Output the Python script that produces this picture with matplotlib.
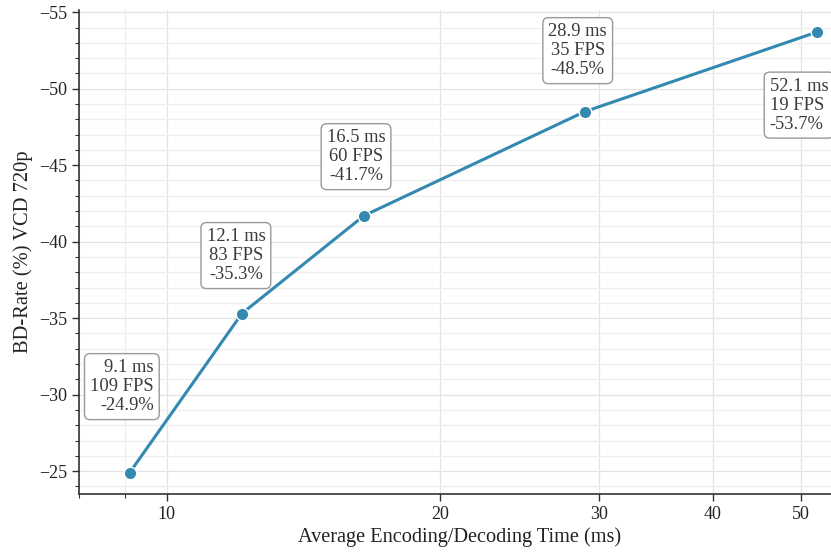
import matplotlib
matplotlib.use('Agg')
import matplotlib.pyplot as plt
from matplotlib.ticker import MultipleLocator, FixedLocator, NullFormatter

# encoding/decoding time vs BD-rate
times = [9.1, 12.1, 16.5, 28.9, 52.1]
bd_rate = [-24.9, -35.3, -41.7, -48.5, -53.7]
fps = [109, 83, 60, 35, 19]
x_ticks = [10, 20, 30, 40, 50]

plt.rcParams['font.family'] = ['Liberation Serif', 'DejaVu Serif']
line_color = '#3389b0'
axis_color = '#333333'

fig = plt.figure(figsize=(8.31, 5.52), dpi=100)
# axes runs a little past the right edge, like the cropped original
ax = fig.add_axes([0.095, 0.105, 0.917, 0.877])

ax.plot(times, bd_rate, color=line_color, linewidth=2.2, marker='o',
        markersize=9, markeredgecolor='white', markeredgewidth=1.0, zorder=3)

# label offsets (pixels) and alignment per point
offsets = [(24, 86), (-6, 58), (-8, 59), (-7, 61), (-47, -73)]
aligns = ['right', 'center', 'center', 'center', 'left']
for t, b, f, off, ha in zip(times, bd_rate, fps, offsets, aligns):
    ax.annotate(f'{t} ms\n{f} FPS\n{b}%', xy=(t, b), xytext=off,
                textcoords='offset pixels', ha=ha, va='center',
                multialignment=ha, fontsize=13.3, color='#3a3a3a',
                linespacing=1.15,
                bbox=dict(boxstyle='round,pad=0.3', fc='white',
                          ec='#999999', lw=1.0),
                annotation_clip=False, zorder=4)

ax.set_xscale('log')
ax.set_xlim(8, 55.4)
ax.set_ylim(-23.5, -55.15)
ax.xaxis.set_major_locator(FixedLocator(x_ticks))
ax.set_xticklabels([str(x) for x in x_ticks])
ax.xaxis.set_minor_formatter(NullFormatter())
ax.yaxis.set_major_locator(MultipleLocator(5))
ax.yaxis.set_minor_locator(MultipleLocator(1))

ax.grid(which='major', color='#e3e3e3', linewidth=0.9)
ax.grid(which='minor', color='#efefef', linewidth=0.9)
ax.set_axisbelow(True)

ax.spines['top'].set_visible(False)
ax.spines['right'].set_visible(False)
ax.spines['left'].set_color(axis_color)
ax.spines['bottom'].set_color(axis_color)
ax.spines['left'].set_linewidth(1.2)
ax.spines['bottom'].set_linewidth(1.2)
ax.tick_params(which='major', length=5, width=1.0, color=axis_color,
               labelsize=13, labelcolor='#222222')
ax.tick_params(which='minor', length=3, width=0.8, color=axis_color)

ax.set_xlabel('Average Encoding/Decoding Time (ms)', fontsize=14.6, color='#222222',
              labelpad=3)
ax.set_ylabel('BD-Rate (%) VCD 720p', fontsize=14.8, color='#222222')

fig.savefig('out.png', dpi=100)
